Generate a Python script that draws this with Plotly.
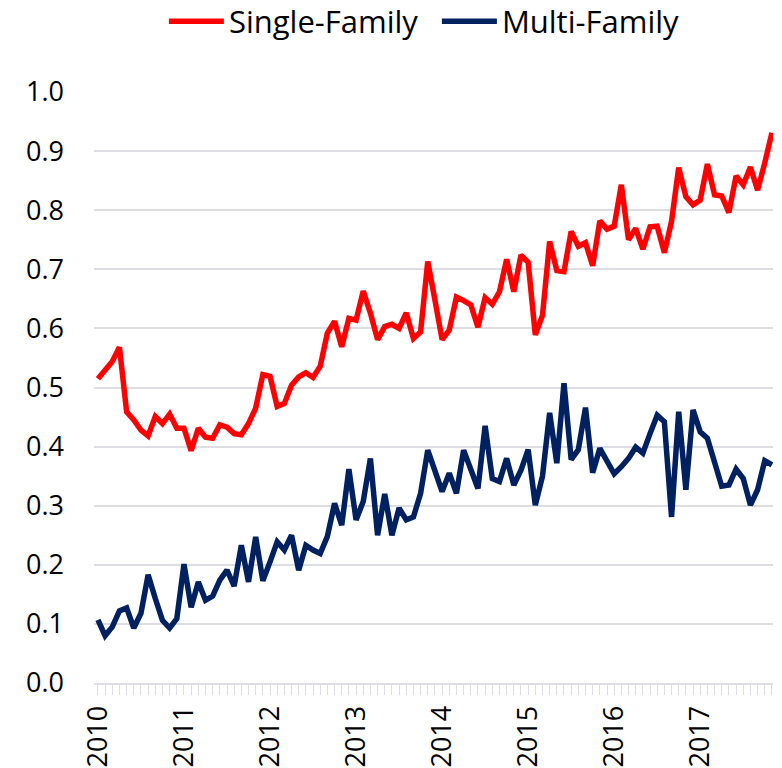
import plotly.graph_objects as go

# Monthly categories Jan 2010 .. Nov 2017
years = [str(y) for y in range(2010, 2018)]
months = [f"{y}-{m:02d}" for y in range(2010, 2018) for m in range(1, 13)][:95]

single_family = [
    0.515, 0.530, 0.544, 0.568, 0.459, 0.445, 0.428, 0.418, 0.451, 0.439, 0.455, 0.431,
    0.431, 0.393, 0.431, 0.416, 0.414, 0.437, 0.433, 0.422, 0.420, 0.439, 0.465, 0.522,
    0.519, 0.468, 0.473, 0.504, 0.518, 0.525, 0.517, 0.536, 0.592, 0.612, 0.569, 0.617,
    0.614, 0.663, 0.626, 0.581, 0.603, 0.607, 0.600, 0.626, 0.583, 0.594, 0.713, 0.648,
    0.581, 0.597, 0.653, 0.647, 0.640, 0.602, 0.652, 0.641, 0.662, 0.717, 0.662, 0.724,
    0.712, 0.589, 0.622, 0.747, 0.698, 0.696, 0.764, 0.739, 0.745, 0.706, 0.782, 0.768,
    0.773, 0.843, 0.750, 0.769, 0.734, 0.772, 0.773, 0.728, 0.781, 0.872, 0.823, 0.809,
    0.817, 0.878, 0.826, 0.824, 0.796, 0.858, 0.843, 0.873, 0.834, 0.880, 0.931,
]

multi_family = [
    0.107, 0.080, 0.095, 0.122, 0.127, 0.093, 0.118, 0.183, 0.143, 0.106, 0.093, 0.109,
    0.201, 0.128, 0.171, 0.140, 0.147, 0.174, 0.191, 0.164, 0.233, 0.171, 0.247, 0.173,
    0.205, 0.239, 0.225, 0.250, 0.191, 0.233, 0.225, 0.219, 0.248, 0.304, 0.267, 0.362,
    0.276, 0.307, 0.380, 0.250, 0.320, 0.250, 0.296, 0.276, 0.281, 0.321, 0.394, 0.360,
    0.324, 0.355, 0.321, 0.394, 0.358, 0.329, 0.435, 0.346, 0.341, 0.380, 0.335, 0.360,
    0.395, 0.301, 0.350, 0.457, 0.372, 0.507, 0.378, 0.395, 0.466, 0.356, 0.397, 0.377,
    0.354, 0.366, 0.380, 0.399, 0.389, 0.422, 0.453, 0.442, 0.281, 0.459, 0.327, 0.462,
    0.425, 0.414, 0.372, 0.333, 0.335, 0.362, 0.346, 0.301, 0.327, 0.376, 0.369,
]

y_ticks = [0.0, 0.1, 0.2, 0.3, 0.4, 0.5, 0.6, 0.7, 0.8, 0.9, 1.0]

x = list(range(len(months)))
FONT = "Open Sans"
GRID = "#dcdee3"

fig = go.Figure()
fig.add_trace(go.Scatter(x=x, y=single_family, mode="lines", name="Single-Family",
                         text=months, cliponaxis=False,
                         line=dict(color="#FF0000", width=5.5)))
fig.add_trace(go.Scatter(x=x, y=multi_family, mode="lines", name="Multi-Family",
                         text=months, cliponaxis=False,
                         line=dict(color="#002060", width=5.5)))

# page body has an 8px margin, so the figure is sized/offset to compensate
fig.update_layout(
    width=774, height=760,
    margin=dict(l=86, r=9, t=84, b=85, autoexpand=False),
    paper_bgcolor="white", plot_bgcolor="white",
    font=dict(family=FONT, color="#000000"),
    showlegend=True,
    legend=dict(orientation="h", x=0.505, xanchor="center", xref="paper",
                y=1.119, yanchor="middle", yref="paper",
                font=dict(size=31, family=FONT), itemwidth=55,
                entrywidth=203, entrywidthmode="pixels",
                bgcolor="rgba(0,0,0,0)"),
    xaxis=dict(
        range=[-0.55, 94.15],
        automargin=False,
        tickmode="array",
        tickvals=[12 * i for i in range(len(years))],
        ticktext=years,
        tickangle=-90,
        tickfont=dict(size=27, family=FONT),
        showgrid=False, zeroline=False,
        showline=True, linecolor=GRID, linewidth=2,
        ticks="outside", ticklen=10, tickwidth=1, tickcolor=GRID,
        minor=dict(dtick=1, tick0=0, ticks="outside", ticklen=10, tickwidth=1,
                   tickcolor=GRID, showgrid=False),
    ),
    yaxis=dict(
        range=[0, 1.0],
        automargin=False,
        tickmode="array",
        tickvals=y_ticks,
        ticktext=[f"{v:.1f}" for v in y_ticks],
        tickfont=dict(size=27, family=FONT),
        showgrid=True, gridcolor=GRID, gridwidth=2,
        zeroline=False, showline=False,
        ticklabelstandoff=29,
    ),
)

fig.write_html("out.html")
